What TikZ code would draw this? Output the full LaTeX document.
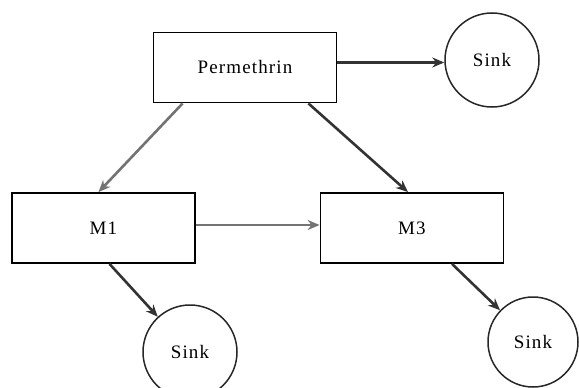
\documentclass[tikz,border=0pt]{standalone}
\usepackage{fontspec}
\setmainfont{Liberation Serif}
\usetikzlibrary{arrows.meta}
\begin{document}
\begin{tikzpicture}[x=1pt,y=-1pt,
  every node/.style={font=\fontsize{19}{22}\selectfont\addfontfeature{LetterSpace=6}},
  boxnode/.style={draw=black,line width=1.8pt,fill=white,minimum width=183pt,minimum height=70pt,inner sep=0pt},
  sinknode/.style={draw=black!85,line width=1.5pt,circle,inner sep=0pt},
  arr/.style={-{Stealth[length=12pt,width=10pt]},line width=2.6pt,draw=black!80},
  grayarr/.style={arr,draw=black!55}
]
\useasboundingbox (0,0) rectangle (579,388);
\node[boxnode] (perm) at (245,67.5) {Permethrin};
\node[boxnode] (m1) at (103.5,228) {M1};
\node[boxnode] (m3) at (412,228) {M3};
\node[sinknode,minimum size=94pt] (s1) at (492,60) {Sink};
\node[sinknode,minimum size=94pt] (s2) at (190,352) {Sink};
\node[sinknode,minimum size=90pt] (s3) at (533,342) {Sink};
\draw[arr] ([yshift=5pt]perm.east) -- ([yshift=5pt]perm.east -| s1.west);
\draw[grayarr] ([xshift=30pt]perm.south west) -- ([xshift=-5pt]m1.north);
\draw[arr] ([xshift=-29pt]perm.south east) -- ([xshift=-4pt]m3.north);
\draw[grayarr] ([yshift=3pt]m1.east) -- ([yshift=3pt]m3.west);
\draw[arr] ([xshift=6pt]m1.south) -- (s2);
\draw[arr] ([xshift=40pt]m3.south) -- (s3);
\end{tikzpicture}
\end{document}
